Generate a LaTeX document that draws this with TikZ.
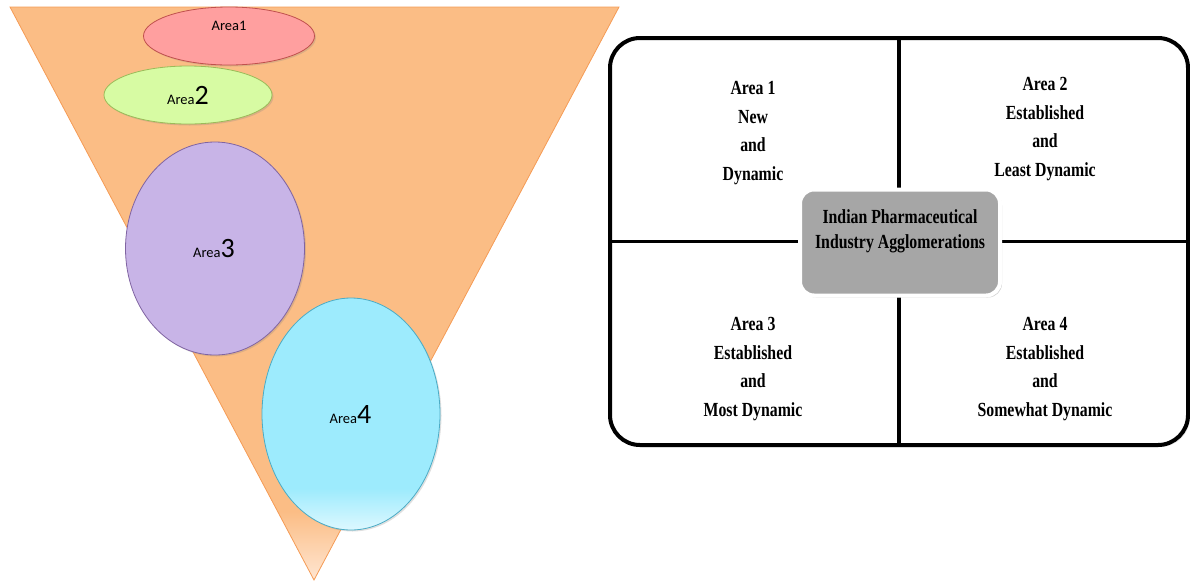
\documentclass[tikz,border=0pt]{standalone}
\usepackage{fontspec}
\setmainfont{Liberation Serif}
\newfontfamily\calibri{Carlito}
\newfontfamily\narrowserif[FakeStretch=0.79]{Liberation Serif}
\usetikzlibrary{shapes.geometric,shadows}
\definecolor{ConeFill}{HTML}{FBBD85}
\definecolor{ConeLight}{HTML}{FFE6D2}
\definecolor{ConeLine}{HTML}{F59B55}
\definecolor{AreaOneFill}{HTML}{FF9F9F}
\definecolor{AreaOneLine}{HTML}{C0504D}
\definecolor{AreaTwoFill}{HTML}{D7FBA3}
\definecolor{AreaTwoLine}{HTML}{9BBB59}
\definecolor{AreaThreeFill}{HTML}{C8B4E7}
\definecolor{AreaThreeLine}{HTML}{8064A2}
\definecolor{AreaFourFill}{HTML}{9DEBFD}
\definecolor{AreaFourLight}{HTML}{DDF8FF}
\definecolor{AreaFourLine}{HTML}{4BACC6}
\definecolor{HubGray}{HTML}{A6A6A6}
\pgfdeclareverticalshading{conefade}{100bp}{color(0bp)=(ConeLight); color(25bp)=(ConeLight); color(31bp)=(ConeFill); color(100bp)=(ConeFill)}
\pgfdeclareverticalshading{areafourfade}{100bp}{color(0bp)=(AreaFourLight); color(25bp)=(AreaFourLight); color(34bp)=(AreaFourFill); color(100bp)=(AreaFourFill)}

\begin{document}
\begin{tikzpicture}[
  x=1pt,y=-1pt,
  area/.style={ellipse,draw,line width=0.8pt,inner sep=0pt,
    drop shadow={opacity=0.25,shadow xshift=1.5pt,shadow yshift=-1.5pt}},
  tag/.style={inner sep=0pt,text=black,font=\calibri\fontsize{14.5}{16}\selectfont},
  big/.style={font=\calibri\fontsize{28}{30}\selectfont},
  quad/.style={align=center,inner sep=0pt,font=\narrowserif\bfseries\fontsize{20}{28.5}\selectfont},
  hubbox/.style={draw=white,line width=4pt,fill=HubGray,rounded corners=14pt,
    minimum width=200pt,minimum height=106pt,
    drop shadow={opacity=0.35,shadow xshift=2pt,shadow yshift=-2pt}},
  hubtext/.style={align=center,inner sep=0pt,font=\narrowserif\bfseries\fontsize{20}{25}\selectfont},
  divider/.style={line width=3.5pt}
]
  \path[use as bounding box] (0,0) rectangle (1190,582);

  \draw[ConeLine,line width=0.8pt,shading=conefade] (10,7) -- (619,7) -- (314,580) -- cycle;

  \node[area,draw=AreaOneLine,fill=AreaOneFill,minimum width=171pt,minimum height=58pt] (areaone) at (229,36) {};
  \node[tag] (areaonetag) at (229,26) {Area1};

  \node[area,draw=AreaTwoLine,fill=AreaTwoFill,minimum width=168pt,minimum height=58pt] (areatwo) at (188,95) {};
  \node[tag] (areatwotag) at (188,95) {Area{\fontsize{28}{30}\selectfont 2}};

  \node[area,draw=AreaThreeLine,fill=AreaThreeFill,minimum width=179pt,minimum height=213pt] (areathree) at (215,248.5) {};
  \node[tag] (areathreetag) at (214,249) {Area{\fontsize{28}{30}\selectfont 3}};

  \node[area,draw=AreaFourLine,shading=areafourfade,minimum width=178pt,minimum height=232pt] (areafour) at (351,414) {};
  \node[tag] (areafourtag) at (350.5,415) {Area{\fontsize{28}{30}\selectfont 4}};

  \node[draw,line width=4pt,rounded corners=30pt,fill=white,outer sep=0pt,
    minimum width=578pt,minimum height=407pt,
    drop shadow={opacity=0.25,shadow xshift=2pt,shadow yshift=-2pt}] (frame) at (899,241.5) {};
  \draw[divider] (frame.north) -- (frame.south);
  \draw[divider] (frame.west) -- (frame.east);

  \node[quad] (quadone) at (753,133) {Area 1\\New\\and\\Dynamic};
  \node[quad] (quadtwo) at (1045,129) {Area 2\\Established\\and\\Least Dynamic};
  \node[quad] (quadthree) at (753,369) {Area 3\\Established\\and\\Most Dynamic};
  \node[quad] (quadfour) at (1045,369) {Area 4\\Established\\and\\Somewhat Dynamic};

  \node[hubbox] (hub) at (900,242.5) {};
  \node[hubtext] (hubtitle) at (900,231) {Indian Pharmaceutical\\Industry Agglomerations};
\end{tikzpicture}
\end{document}
